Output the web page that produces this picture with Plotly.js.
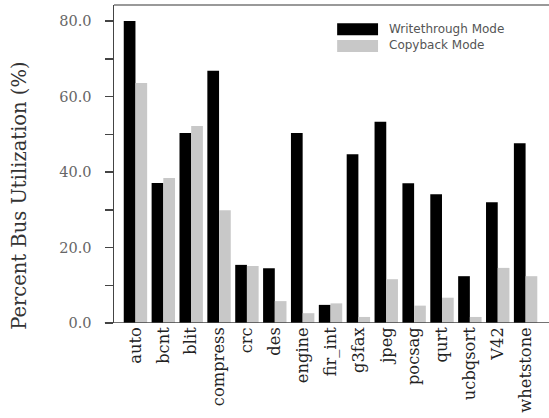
<!DOCTYPE html>
<html><head><meta charset="utf-8">
<script src="https://cdn.plot.ly/plotly-3.0.1.min.js"></script>
<style>body{margin:0;padding:0;background:#fff}#chart{width:549px;height:418px}</style>
</head><body><div id="chart"></div>
<script>
var categories = ["auto","bcnt","blit","compress","crc","des","engine","fir_int","g3fax","jpeg","pocsag","qurt","ucbqsort","V42","whetstone"];
var writethrough = [80.0, 37.1, 50.3, 66.8, 15.4, 14.5, 50.3, 4.8, 44.7, 53.3, 37.0, 34.1, 12.4, 32.0, 47.6];
var copyback = [63.6, 38.4, 52.2, 29.9, 15.1, 5.8, 2.6, 5.2, 1.6, 11.6, 4.6, 6.7, 1.6, 14.6, 12.4];
var seriesNames = ["Writethrough Mode", "Copyback Mode"];
var yTicks = [0, 20, 40, 60, 80];
var yTitle = "Percent Bus Utilization (%)";

var serif = "DejaVu Serif, serif";
var sans = "DejaVu Sans, sans-serif";
var traces = [
  {type:"bar", x:categories, y:writethrough, name:seriesNames[0], marker:{color:"#000000"}, showlegend:false},
  {type:"bar", x:categories, y:copyback, name:seriesNames[1], marker:{color:"#c8c8c8"}, showlegend:false}
];
var layout = {
  width:549, height:418,
  margin:{l:114, r:0, t:5, b:95},
  paper_bgcolor:"#fff", plot_bgcolor:"#fff",
  barmode:"group", bargap:0.16, bargroupgap:0,
  xaxis:{type:"category", range:[-0.77, 14.84], showline:false, ticks:"", showgrid:false,
    tickangle:-90, tickfont:{family:serif, size:16.3, color:"#222"}},
  yaxis:{range:[0, 84.24], tickvals:yTicks, ticktext:yTicks.map(function(v){return v.toFixed(1);}),
    showgrid:false, zeroline:false, showline:true, linecolor:"#444", linewidth:1.5,
    ticks:"outside", ticklen:8, tickcolor:"#444", tickwidth:1.5, ticklabelstandoff:10,
    minor:{dtick:10, ticks:"outside", ticklen:8, tickcolor:"#444", tickwidth:1.5, showgrid:false},
    tickfont:{family:serif, size:14.5, color:"#666"}},
  shapes:[
    {type:"line", xref:"paper", yref:"paper", x0:0, x1:1, y0:1, y1:1, line:{color:"#999", width:2}},
    {type:"line", xref:"paper", yref:"y", x0:-0.021, x1:1, y0:0, y1:0, line:{color:"#444", width:1.5}},
    {type:"rect", xref:"paper", yref:"paper", x0:0.513, x1:0.607, y0:0.905, y1:0.943, fillcolor:"#000", line:{width:0}},
    {type:"rect", xref:"paper", yref:"paper", x0:0.513, x1:0.607, y0:0.852, y1:0.89, fillcolor:"#c8c8c8", line:{width:0}}
  ],
  annotations:[
    {xref:"paper", yref:"paper", x:-0.216, y:0.4, xanchor:"center", yanchor:"middle", textangle:-90, showarrow:false, text:yTitle, font:{family:serif, size:19.5, color:"#333"}},
    {xref:"paper", yref:"paper", x:0.628, y:0.924, xanchor:"left", yanchor:"middle", showarrow:false, text:seriesNames[0], font:{family:sans, size:12, color:"#555"}},
    {xref:"paper", yref:"paper", x:0.628, y:0.874, xanchor:"left", yanchor:"middle", showarrow:false, text:seriesNames[1], font:{family:sans, size:12, color:"#555"}}
  ]
};
Plotly.newPlot("chart", traces, layout, {displayModeBar:false, staticPlot:true});
</script></body></html>
